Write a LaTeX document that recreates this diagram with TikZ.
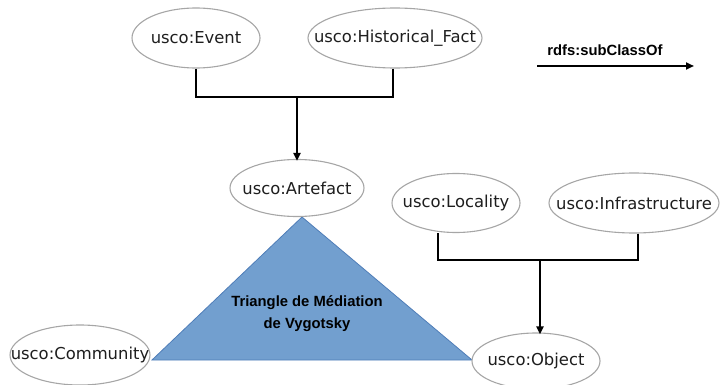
\documentclass[tikz,border=0pt]{standalone}
\usepackage{fontspec}
\setmainfont{DejaVu Sans}
\newfontfamily\boldsans{Liberation Sans}
\usetikzlibrary{shapes.geometric,arrows.meta}
\definecolor{ellborder}{HTML}{A6A6A6}
\definecolor{txt}{HTML}{1E1E1E}
\definecolor{trifill}{HTML}{729FCF}
\definecolor{triline}{HTML}{4F7DB8}
\newcommand{\ctext}[1]{\makebox[0pt][c]{#1}}
\tikzset{
  cls/.style={ellipse, draw=ellborder, line width=1.1pt, fill=white, inner sep=0pt,
    text=txt, font=\fontsize{16.4}{18}\selectfont},
  sub/.style={line width=2.4pt, black},
  subarrow/.style={sub, -{Triangle[length=8pt,width=7pt]}},
  lbl/.style={font=\boldsans\bfseries\fontsize{14.8}{22}\selectfont, text=black, align=center}
}
\begin{document}
\begin{tikzpicture}[x=1pt,y=-1pt]
\useasboundingbox (0,0) rectangle (721,385);
% triangle
\draw[fill=trifill, draw=triline, line width=0.8pt] (302,217) -- (152,360) -- (472,360) -- cycle;
\node[lbl] (tri) at (307,314) {Triangle de Médiation\\de Vygotsky};
% classes
\node[cls, minimum width=128pt, minimum height=60pt] (ev) at (196,38) {\ctext{usco:Event}};
\node[cls, minimum width=174pt, minimum height=60pt] (hf) at (395,38) {\ctext{usco:Historical\_Fact}};
\node[cls, minimum width=134pt, minimum height=57pt] (art) at (297,188) {\ctext{usco:Artefact}};
\node[cls, minimum width=128pt, minimum height=59pt] (loc) at (456,203) {\ctext{usco:Locality}};
\node[cls, minimum width=170pt, minimum height=60pt] (inf) at (634,203) {\ctext{usco:Infrastructure}};
\node[cls, minimum width=140pt, minimum height=60pt] (com) at (80,355) {\ctext{usco:Community}};
\node[cls, minimum width=128pt, minimum height=56pt] (obj) at (536,361) {\ctext{usco:Object}};
% connectors
\coordinate (j1) at (297,97);
\coordinate (j2) at (540,260);
\draw[sub] (ev.south) |- (j1);
\draw[sub] ([xshift=-2pt]hf.south) |- (j1);
\draw[subarrow] (j1) -- ([yshift=-2pt]art.north);
\draw[sub] ([xshift=-18pt]loc.south) |- (j2);
\draw[sub] ([xshift=4pt]inf.south) |- (j2);
\draw[subarrow] (j2) -- ([yshift=-2pt]obj.north -| j2);
% legend
\node[lbl, anchor=base] (leg) at (605,56) {rdfs:subClassOf};
\coordinate (l1) at (537,66);
\coordinate (l2) at (694,66);
\draw[subarrow, line width=2pt] (l1) -- (l2);
\end{tikzpicture}
\end{document}
